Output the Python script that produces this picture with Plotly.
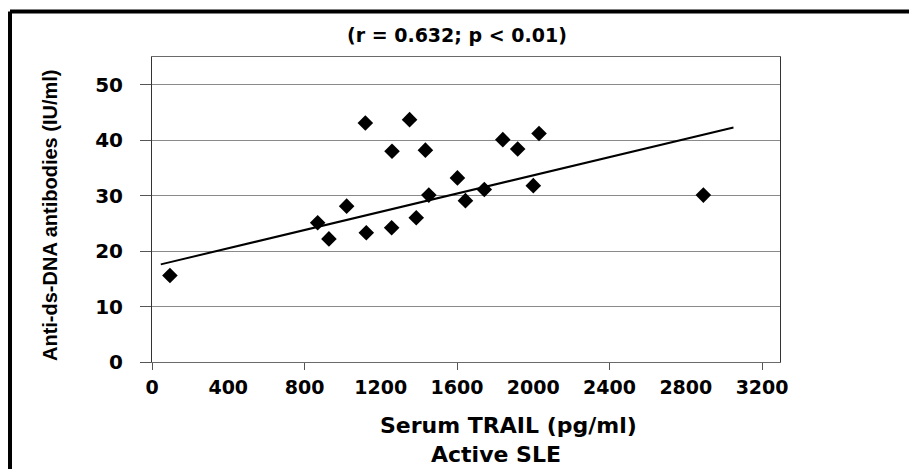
import plotly.graph_objects as go

# Data
trail_pg_ml = [94, 869, 928, 1021, 1119, 1124, 1259, 1257, 1351, 1434,
               1452, 1386, 1602, 1644, 1743, 1840, 1918, 2000, 2030, 2892]
anti_dsdna = [15.6, 25.1, 22.2, 28.1, 43.1, 23.3, 38.0, 24.2, 43.7, 38.2,
              30.1, 26.0, 33.2, 29.1, 31.1, 40.1, 38.4, 31.8, 41.2, 30.1]
trend_x = [46, 3050]
trend_y = [17.6, 42.3]

x_ticks = [0, 400, 800, 1200, 1600, 2000, 2400, 2800, 3200]
y_ticks = [0, 10, 20, 30, 40, 50]

title_text = "(r = 0.632; p < 0.01)"
x_title = "Serum TRAIL (pg/ml)"
sub_title = "Active SLE"
y_title = "Anti-ds-DNA antibodies (IU/ml)"

BOLD = "DejaVu Sans"

fig = go.Figure()
fig.add_trace(go.Scatter(x=trend_x, y=trend_y, mode="lines",
                         line=dict(color="black", width=2), hoverinfo="skip",
                         showlegend=False))
fig.add_trace(go.Scatter(x=trail_pg_ml, y=anti_dsdna, mode="markers",
                         marker=dict(symbol="diamond", size=12, color="black"),
                         showlegend=False))

# the page body adds an 8px offset, so the figure is 8px smaller and shifted
fig.update_layout(
    width=909, height=461,
    margin=dict(l=144, r=137, t=49, b=107, pad=0),
    paper_bgcolor="white", plot_bgcolor="white",
    showlegend=False,
    xaxis=dict(range=[0, 3294], tickmode="array", tickvals=x_ticks,
               ticktext=[str(v) for v in x_ticks], ticks="",
               showgrid=False, zeroline=False, showline=True,
               linecolor="#6a6a6a", linewidth=1, mirror=True,
               tickfont=dict(family=BOLD, size=19, color="black", weight="bold"),
               ticklabelstandoff=8,
               minor=dict(ticks="outside", ticklen=7, tick0=0, dtick=800,
                          tickcolor="#555", showgrid=False)),
    yaxis=dict(range=[0, 55], tickmode="array", tickvals=y_ticks,
               ticks="outside", ticklen=11, tickcolor="#555",
               showgrid=True, gridcolor="#8a8a8a", gridwidth=1,
               zeroline=False, showline=True, linecolor="#333", linewidth=1,
               mirror=True,
               tickfont=dict(family=BOLD, size=20, color="black", weight="bold"),
               ticklabelstandoff=13),
)

ann_font = dict(family=BOLD, color="black", weight="bold")
fig.add_annotation(text=title_text, xref="paper", yref="paper",
                   x=0.4857, y=1.0721, showarrow=False,
                   xanchor="center", yanchor="middle",
                   font=dict(size=19, **ann_font))
fig.add_annotation(text=x_title, xref="paper", yref="paper",
                   x=0.5669, y=-0.2066, showarrow=False,
                   xanchor="center", yanchor="middle",
                   font=dict(size=22, **ann_font))
fig.add_annotation(text=sub_title, xref="paper", yref="paper",
                   x=0.5478, y=-0.3049, showarrow=False,
                   xanchor="center", yanchor="middle",
                   font=dict(size=22, **ann_font))
fig.add_annotation(text=y_title, xref="paper", yref="paper",
                   x=-0.1624, y=0.4787, showarrow=False, textangle=-90,
                   xanchor="center", yanchor="middle",
                   font=dict(family="Liberation Sans Narrow, Liberation Sans, sans-serif",
                             size=20, color="black", weight="bold"))

# outer frame (thick black border at top and left)
fig.add_shape(type="line", xref="paper", yref="paper",
              x0=-0.2261, x1=1.5, y0=1.1492, y1=1.1492,
              line=dict(color="black", width=4))
fig.add_shape(type="line", xref="paper", yref="paper",
              x0=-0.2261, x1=-0.2261, y0=1.1492, y1=-0.6,
              line=dict(color="black", width=4))

fig.write_html("out.html")
